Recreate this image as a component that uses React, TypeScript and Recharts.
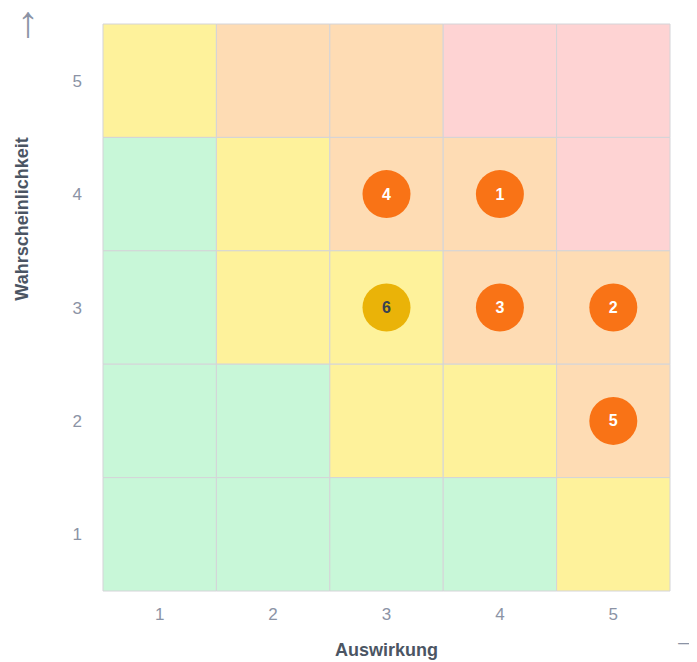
import React from 'react';
import {
  ScatterChart,
  Scatter,
  XAxis,
  YAxis,
  ReferenceArea,
} from 'recharts';

// impact (x) and likelihood (y) levels
const levels = [1, 2, 3, 4, 5];

// risk zone per cell, rows from likelihood 5 down to 1
const zoneRows = [
  ['yellow', 'orange', 'orange', 'red', 'red'],
  ['green', 'yellow', 'orange', 'orange', 'red'],
  ['green', 'yellow', 'yellow', 'orange', 'orange'],
  ['green', 'green', 'yellow', 'yellow', 'orange'],
  ['green', 'green', 'green', 'green', 'yellow'],
];

const zoneColors: Record<string, string> = {
  green: '#c8f7d8',
  yellow: '#fef29b',
  orange: '#fedcb4',
  red: '#fed3d3',
};

const riskIds = ['1', '2', '3', '4', '5', '6'];
const riskImpact = [4, 5, 4, 3, 5, 3];
const riskLikelihood = [4, 3, 3, 4, 2, 3];
const riskLevel = ['high', 'high', 'high', 'high', 'high', 'medium'];

const risks = riskIds.map((id, i) => ({
  id,
  x: riskImpact[i],
  y: riskLikelihood[i],
  level: riskLevel[i],
}));

const FONT = '"Liberation Sans", Arial, sans-serif';
const TICK = '#8b93a5';
const TITLE = '#4b5563';

const RiskDot = (props: any) => {
  const { cx, cy, payload } = props;
  const medium = payload.level === 'medium';
  return (
    <g>
      <circle cx={cx} cy={cy} r={24} fill={medium ? '#eab308' : '#f97316'} />
      <text
        x={cx}
        y={cy}
        dy={5.5}
        textAnchor="middle"
        fontSize={16}
        fontWeight={700}
        fontFamily={FONT}
        fill={medium ? '#374151' : '#ffffff'}
      >
        {payload.id}
      </text>
    </g>
  );
};

const XTitle = (props: any) => {
  const { viewBox } = props;
  return (
    <g>
      <text
        x={viewBox.x + viewBox.width / 2}
        y={viewBox.y + 65}
        textAnchor="middle"
        fontSize={18}
        fontWeight={700}
        fontFamily={FONT}
        fill={TITLE}
      >
        Auswirkung
      </text>
      <text x={665} y={640} fontSize={26} fontFamily={FONT} fill={TICK}>
        →
      </text>
    </g>
  );
};

const YTitle = () => (
  <g>
    <text
      x={14}
      y={211}
      transform="rotate(-90 14 211)"
      textAnchor="middle"
      dominantBaseline="central"
      fontSize={18}
      fontWeight={700}
      fontFamily={FONT}
      fill={TITLE}
    >
      Wahrscheinlichkeit
    </text>
    <text x={20} y={29} textAnchor="middle" fontSize={44} fontFamily={FONT} fill={TICK}>
      ↑
    </text>
  </g>
);

export default function App() {
  return (
    <div style={{ width: 689, height: 654 }}>
      <ScatterChart
        width={689}
        height={654}
        margin={{ top: 16, right: 27, bottom: 8, left: 0 }}
      >
        <XAxis
          type="number"
          dataKey="x"
          domain={[0.5, 5.5]}
          ticks={levels}
          height={63}
          axisLine={false}
          tickLine={false}
          tickSize={0}
          tickMargin={17}
          tick={{ fill: TICK, fontSize: 17, fontFamily: FONT }}
          label={<XTitle />}
        />
        <YAxis
          type="number"
          dataKey="y"
          domain={[0.5, 5.5]}
          ticks={levels}
          width={95}
          axisLine={false}
          tickLine={false}
          tickSize={0}
          tickMargin={21}
          tick={{ fill: TICK, fontSize: 17, fontFamily: FONT }}
          label={<YTitle />}
        />
        {zoneRows.map((row, r) =>
          row.map((zone, c) => {
            const lx = levels[c];
            const ly = levels[levels.length - 1 - r];
            return (
              <ReferenceArea
                key={`${r}-${c}`}
                x1={lx - 0.5}
                x2={lx + 0.5}
                y1={ly - 0.5}
                y2={ly + 0.5}
                fill={zoneColors[zone]}
                fillOpacity={1}
                stroke="#d4d4d8"
                strokeWidth={1}
              />
            );
          })
        )}
        <Scatter data={risks} shape={<RiskDot />} isAnimationActive={false} />
      </ScatterChart>
    </div>
  );
}
